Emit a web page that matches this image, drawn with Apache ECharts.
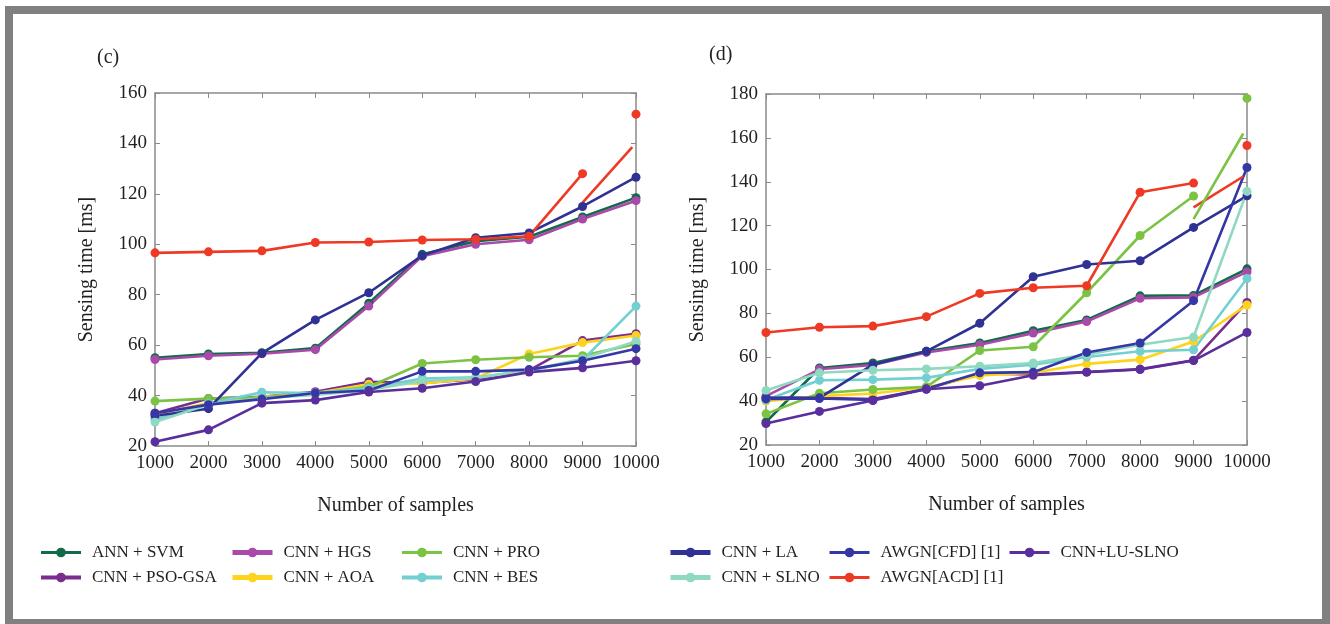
<!DOCTYPE html>
<html><head><meta charset="utf-8">
<script src="https://cdn.jsdelivr.net/npm/echarts@6/dist/echarts.min.js"></script>
<style>html,body{margin:0;padding:0;background:#fff}#c{width:1330px;height:624px}</style>
</head><body><div id="c"></div>
<script>
const samples = [1000,2000,3000,4000,5000,6000,7000,8000,9000,10000];
const yTicksC = [20,40,60,80,100,120,140,160];
const yTicksD = [20,40,60,80,100,120,140,160,180];
const seriesNames = ['ANN + SVM','CNN + PSO-GSA','CNN + HGS','CNN + AOA','CNN + PRO','CNN + BES','CNN + LA','CNN + SLNO','AWGN[CFD] [1]','AWGN[ACD] [1]','CNN+LU-SLNO'];

// panel (c)
const c_annSvm = [55,56.5,57,58.8,76.6,96,101.2,103,110.8,118.5];
const c_psoGsa = [33,38.8,39.5,41.5,45.5,45,46.5,50,61.8,64.5];
const c_hgs    = [54.3,55.8,56.6,58.2,75.5,95.3,100,101.8,110,117.3];
const c_aoa    = [32.5,37,39.5,41,44.5,44.8,46.8,56.5,61,63.8];
const c_pro    = [37.8,38.8,39.3,40.8,43.5,52.7,54.2,55.2,55.8,60.5];
const c_bes    = [30.5,36.8,41.3,41,43,46.8,47.2,50,54,75.5];
const c_la     = [32,34.8,56.8,70,80.8,95.5,102.6,104.5,115,126.6];
const c_slno   = [29.5,36.5,39,40.2,42.2,45.8,47,50,54.6,61.5];
const c_cfd    = [33,36.4,38.6,41,42,49.6,49.6,50.3,53.8,58.6];
const c_acd    = [96.6,97,97.4,100.7,100.9,101.7,102,103.2,128,151.6];
const c_luSlno = [21.7,26.4,37,38.2,41.4,42.9,45.6,49.3,51,53.8];
const c_acdJump = [[9000,116.5],[9930,138.5]];

// panel (d)
const d_annSvm = [30.5,55.1,57.4,62.7,66.5,72.1,77,88,88.2,100.3];
const d_psoGsa = [41.5,41.5,41,45.5,52.6,52.2,53.3,54.6,58.6,85];
const d_hgs    = [42.3,54.5,56.5,62.2,65.7,71,76.3,86.9,87.3,98.9];
const d_aoa    = [40,42.3,43.5,46.2,51.7,52.9,57,58.9,67.2,83.8];
const d_pro    = [34.2,43.6,45.3,46.5,63.1,64.8,89.4,115.5,133.5,178];
const d_bes    = [40.5,49.5,49.8,50.6,54.7,56.6,60.1,62.7,63.4,95.9];
const d_la     = [41.5,41.5,56.6,62.7,75.5,96.7,102.3,104,119.2,133.6];
const d_slno   = [44.8,52.9,54.1,54.7,55.9,57.4,61.2,65.7,69.2,135.6];
const d_cfd    = [41,41.2,40.5,45.6,52.9,53.2,62.2,66.5,85.8,146.5];
const d_acd    = [71.3,73.7,74.2,78.5,89.1,91.7,92.6,135.2,139.4,156.5];
const d_luSlno = [29.8,35.3,40.3,45.4,47,51.8,53.2,54.4,58.5,71.3];
const d_acdJump = [[9000,128.3],[9930,142.4]];
const d_proJump = [[9000,123],[9930,162]];

const colors = {
 'ANN + SVM':'#0f6b48','CNN + PSO-GSA':'#7b2d8e','CNN + HGS':'#a94aab','CNN + AOA':'#fdd31c',
 'CNN + PRO':'#7cc243','CNN + BES':'#72d0d2','CNN + LA':'#2f3193','CNN + SLNO':'#8fd9c0',
 'AWGN[CFD] [1]':'#3537a6','AWGN[ACD] [1]':'#ee3a24','CNN+LU-SLNO':'#5a2f9c'
};
const legendWidth = {
 'ANN + SVM':3,'CNN + PSO-GSA':4,'CNN + HGS':5,'CNN + AOA':5,'CNN + PRO':3,'CNN + BES':4,
 'CNN + LA':5,'CNN + SLNO':5,'AWGN[CFD] [1]':3,'AWGN[ACD] [1]':3,'CNN+LU-SLNO':3
};
const panelC = [c_annSvm,c_psoGsa,c_hgs,c_aoa,c_pro,c_bes,c_la,c_slno,c_cfd,c_acd,c_luSlno];
const panelD = [d_annSvm,d_psoGsa,d_hgs,d_aoa,d_pro,d_bes,d_la,d_slno,d_cfd,d_acd,d_luSlno];
const breaksC = {'AWGN[ACD] [1]':8};
const breaksD = {'AWGN[ACD] [1]':8,'CNN + PRO':8};
const jumpsC = [['AWGN[ACD] [1]',c_acdJump]];
const jumpsD = [['AWGN[ACD] [1]',d_acdJump],['CNN + PRO',d_proJump]];

const FONT = '"Liberation Serif","DejaVu Serif",serif';
const TXT = '#231f20';
const AX = '#8a8a8a';

function buildData(vals, brk){
  const out = [];
  vals.forEach((v,i)=>{
    out.push([samples[i], v]);
    if (brk !== undefined && i === brk) out.push([(samples[i]+samples[i+1])/2, '-']);
  });
  return out;
}
const series = [];
[[panelC,breaksC,jumpsC,0],[panelD,breaksD,jumpsD,1]].forEach(([panel,brks,jumps,p])=>{
  panel.forEach((vals,k)=>{
    const nm = seriesNames[k];
    series.push({
      name:nm, type:'line', xAxisIndex:p*2, yAxisIndex:p*2,
      data: buildData(vals, brks[nm]), connectNulls:false,
      symbol:'circle', symbolSize:9, showSymbol:true,
      lineStyle:{width:2.6,color:colors[nm]}, itemStyle:{color:colors[nm]},
      emphasis:{disabled:true}, animation:false
    });
  });
  jumps.forEach(([nm,seg])=>{
    series.push({
      name:nm, type:'line', xAxisIndex:p*2, yAxisIndex:p*2, data:seg,
      symbol:'none', lineStyle:{width:2.6,color:colors[nm]}, itemStyle:{color:colors[nm]},
      emphasis:{disabled:true}, animation:false
    });
  });
});

function xAxes(grid, show){
  return {
    type:'value', gridIndex:grid, min:samples[0], max:samples[samples.length-1], interval:1000,
    position: show ? 'bottom':'top',
    axisLine:{show:true, onZero:false, lineStyle:{color:AX,width:1.5}},
    axisTick:{show:true, inside:true, length:5, lineStyle:{color:AX}},
    axisLabel:{show:show, color:TXT, fontFamily:FONT, fontSize:19, margin:8, formatter:v=>String(v)},
    splitLine:{show:false},
    name: show ? 'Number of samples' : '', nameLocation:'middle', nameGap:50,
    nameTextStyle:{color:TXT, fontFamily:FONT, fontSize:20}
  };
}
function yAxes(grid, ticks, show){
  return {
    type:'value', gridIndex:grid, min:ticks[0], max:ticks[ticks.length-1], interval:20,
    position: show ? 'left':'right',
    axisLine:{show:true, onZero:false, lineStyle:{color:AX,width:1.5}},
    axisTick:{show:true, inside:true, length:5, lineStyle:{color:AX}},
    axisLabel:{show:show, color:TXT, fontFamily:FONT, fontSize:19, margin:8, formatter:v=>String(v)},
    splitLine:{show:false},
    name: show ? 'Sensing time [ms]' : '', nameLocation:'middle', nameGap:58, nameRotate:90,
    nameTextStyle:{color:TXT, fontFamily:FONT, fontSize:20}
  };
}

const legendCols = [
  [39,['ANN + SVM','CNN + PSO-GSA']],
  [230,['CNN + HGS','CNN + AOA']],
  [400,['CNN + PRO','CNN + BES']],
  [668,['CNN + LA','CNN + SLNO']],
  [828,['AWGN[CFD] [1]','AWGN[ACD] [1]']],
  [1008,['CNN+LU-SLNO']]
];
const legends = legendCols.map(([left,names])=>({
  left:left, top:544, padding:0, orient:'vertical', itemGap:8, itemWidth:40, itemHeight:12,
  selectedMode:false,
  textStyle:{color:TXT, fontFamily:FONT, fontSize:17, padding:[0,0,0,6]},
  data: names.map(n=>({name:n, itemStyle:{color:colors[n]}, lineStyle:{width:legendWidth[n], color:colors[n]}}))
}));

const chart = echarts.init(document.getElementById('c'), null, {renderer:'canvas'});
chart.setOption({
  backgroundColor:'#fff',
  animation:false,
  title:[
    {text:'(c)', left:92, top:43, textStyle:{color:TXT, fontFamily:FONT, fontSize:20, fontWeight:'normal'}},
    {text:'(d)', left:704, top:40, textStyle:{color:TXT, fontFamily:FONT, fontSize:20, fontWeight:'normal'}}
  ],
  grid:[
    {left:155, top:93, width:481, height:353},
    {left:766, top:94, width:481, height:351}
  ],
  xAxis:[xAxes(0,true), xAxes(0,false), xAxes(1,true), xAxes(1,false)],
  yAxis:[yAxes(0,yTicksC,true), yAxes(0,yTicksC,false), yAxes(1,yTicksD,true), yAxes(1,yTicksD,false)],
  legend: legends,
  graphic:[{type:'rect', shape:{x:9, y:10, width:1317, height:613}, style:{fill:'none', stroke:'#808080', lineWidth:8}, silent:true}],
  series: series
});
</script></body></html>
